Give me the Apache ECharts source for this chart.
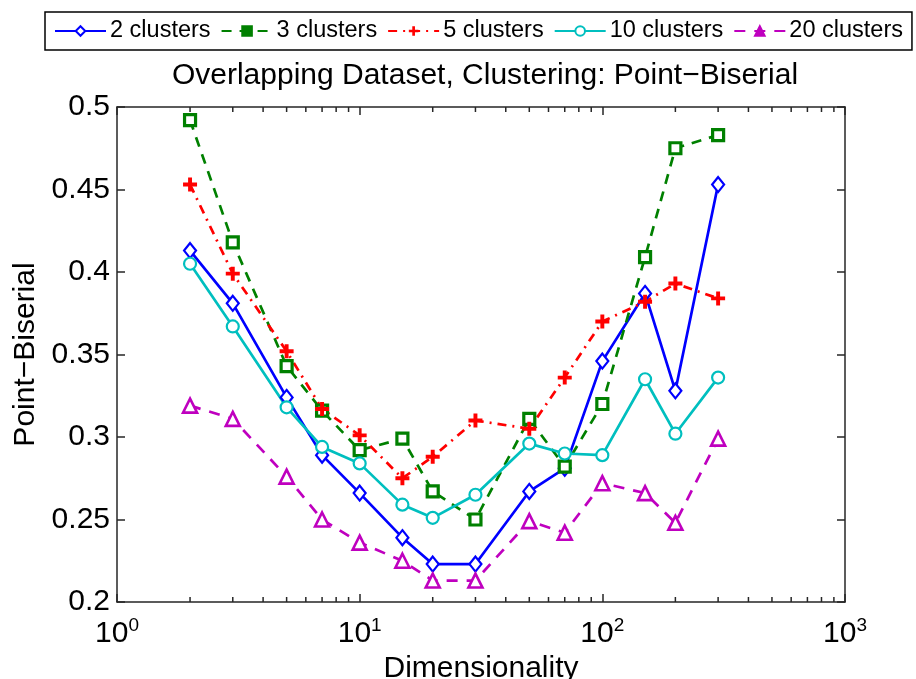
<!DOCTYPE html>
<html>
<head>
<meta charset="utf-8">
<script src="https://cdn.jsdelivr.net/npm/echarts@6/dist/echarts.min.js"></script>
<style>html,body{margin:0;padding:0;background:#fff}#c{width:916px;height:679px}</style>
</head>
<body>
<div id="c"></div>
<script>
var dims = [2, 3, 5, 7, 10, 15, 20, 30, 50, 70, 100, 150, 200, 300];
var seriesNames = ['2 clusters', '3 clusters', '5 clusters', '10 clusters', '20 clusters'];
var c2  = [0.413, 0.381, 0.324, 0.289, 0.266, 0.239, 0.223, 0.223, 0.267, 0.281, 0.346, 0.387, 0.328, 0.453];
var c3  = [0.492, 0.418, 0.343, 0.316, 0.292, 0.299, 0.267, 0.250, 0.311, 0.282, 0.320, 0.409, 0.475, 0.483];
var c5  = [0.453, 0.399, 0.352, 0.317, 0.301, 0.275, 0.288, 0.310, 0.305, 0.336, 0.370, 0.382, 0.393, 0.384];
var c10 = [0.405, 0.367, 0.318, 0.294, 0.284, 0.259, 0.251, 0.265, 0.296, 0.290, 0.289, 0.335, 0.302, 0.336];
var c20 = [0.319, 0.311, 0.276, 0.250, 0.236, 0.225, 0.213, 0.213, 0.249, 0.242, 0.272, 0.266, 0.248, 0.299];
var minorTickVals = [2,3,4,5,6,7,8,9,20,30,40,50,60,70,80,90,200,300,400,500,600,700,800,900];
var yTicks = { min: 0.2, max: 0.5, interval: 0.05 };
var xRange = { min: 1, max: 1000 };

function pairs(vals) { return dims.map(function (d, i) { return [d, vals[i]]; }); }

var font = 'Liberation Sans, Arial, sans-serif';
var axisColor = '#262626';
var colors = ['#0000ff', '#008000', '#ff0000', '#00bfbf', '#bf00bf'];

var plusPath = 'path://M3.6,0H6.4V3.6H10V6.4H6.4V10H3.6V6.4H0V3.6H3.6Z';

function mkSeries(name, vals, color, lineType, symbol, size, fill, bw) {
  return {
    name: name, type: 'line', data: pairs(vals),
    symbol: symbol, symbolSize: size,
    lineStyle: { color: color, width: 2.7, type: lineType },
    itemStyle: { color: fill, borderColor: color, borderWidth: bw },
    emphasis: { disabled: true }, animation: false, z: 3
  };
}

var minorData = [];
minorTickVals.forEach(function (v) { minorData.push([v, yTicks.min, -1]); minorData.push([v, yTicks.max, 1]); });

var chart = echarts.init(document.getElementById('c'), null, { renderer: 'canvas' });
chart.setOption({
  animation: false,
  backgroundColor: '#fff',
  title: {
    text: 'Overlapping Dataset, Clustering: Point\u2212Biserial',
    left: 480, top: 56, textAlign: 'center',
    textStyle: { fontFamily: font, fontSize: 30, fontWeight: 'normal', color: '#000' }
  },
  legend: {
    data: [
      { name: seriesNames[0] },
      { name: seriesNames[1], itemStyle: { color: colors[1], borderColor: colors[1] } },
      { name: seriesNames[2] },
      { name: seriesNames[3] },
      { name: seriesNames[4], itemStyle: { color: colors[4], borderColor: colors[4] } }
    ],
    left: 45, top: 12,
    padding: [7, 9, 7, 9],
    itemGap: 10, itemWidth: 51, itemHeight: 12,
    borderColor: '#000', borderWidth: 1.5,
    textStyle: { fontFamily: font, fontSize: 23.5, color: '#000', padding: [0, 0, 0, -1] }
  },
  grid: { left: 117, right: 71, top: 107, bottom: 77, containLabel: false, outerBoundsMode: 'none' },
  xAxis: [{
    type: 'log', logBase: 10, min: xRange.min, max: xRange.max, position: 'bottom',
    name: 'Dimensionality', nameLocation: 'middle', nameGap: 46,
    nameTextStyle: { fontFamily: font, fontSize: 30, color: '#000' },
    axisLine: { lineStyle: { color: axisColor, width: 1.5 } },
    axisTick: { inside: true, length: 8, lineStyle: { color: axisColor, width: 1.5 } },
    splitLine: { show: false },
    axisLabel: {
      margin: 14,
      formatter: function (v) { return '{b|10}{s|' + Math.round(Math.log10(v)) + '}'; },
      rich: {
        b: { fontFamily: font, fontSize: 30, color: '#000' },
        s: { fontFamily: font, fontSize: 19, color: '#000', verticalAlign: 'top', padding: [0, 0, 16, 0] }
      }
    }
  }, {
    type: 'log', logBase: 10, min: xRange.min, max: xRange.max, position: 'top',
    axisLine: { lineStyle: { color: axisColor, width: 1.5 } },
    axisTick: { inside: true, length: 8, lineStyle: { color: axisColor, width: 1.5 } },
    splitLine: { show: false }, axisLabel: { show: false }
  }],
  yAxis: [{
    type: 'value', min: yTicks.min, max: yTicks.max, interval: yTicks.interval, position: 'left',
    name: 'Point\u2212Biserial', nameLocation: 'middle', nameGap: 70, nameRotate: 90,
    nameTextStyle: { fontFamily: font, fontSize: 30, color: '#000' },
    axisLine: { show: true, lineStyle: { color: axisColor, width: 1.5 } },
    axisTick: { show: true, inside: true, length: 8, lineStyle: { color: axisColor, width: 1.5 } },
    splitLine: { show: false },
    axisLabel: { margin: 7, fontFamily: font, fontSize: 30, color: '#000',
      formatter: function (v) { return String(+v.toFixed(2)); } }
  }, {
    type: 'value', min: yTicks.min, max: yTicks.max, interval: yTicks.interval, position: 'right',
    axisLine: { show: true, lineStyle: { color: axisColor, width: 1.5 } },
    axisTick: { show: true, inside: true, length: 8, lineStyle: { color: axisColor, width: 1.5 } },
    splitLine: { show: false }, axisLabel: { show: false }
  }],
  series: [
    mkSeries(seriesNames[0], c2, colors[0], 'solid', 'diamond', [12, 15], '#fff', 2.2),
    mkSeries(seriesNames[1], c3, colors[1], [10, 8], 'rect', 11, '#fff', 3.2),
    mkSeries(seriesNames[2], c5, colors[2], [9, 6, 2, 6], plusPath, 14, colors[2], 0),
    mkSeries(seriesNames[3], c10, colors[3], 'solid', 'circle', 12, '#fff', 2.2),
    mkSeries(seriesNames[4], c20, colors[4], [11, 9], 'triangle', 14, '#fff', 2.6),
    {
      type: 'custom', name: 'minorTicks', silent: true, z: 1,
      data: minorData, encode: { x: 0, y: 1 },
      renderItem: function (params, api) {
        var p = api.coord([api.value(0), api.value(1)]);
        var dir = api.value(2);
        return { type: 'line', shape: { x1: p[0], y1: p[1], x2: p[0], y2: p[1] + dir * 5 },
          style: { stroke: axisColor, lineWidth: 1.5 } };
      }
    }
  ]
});
</script>
</body>
</html>
